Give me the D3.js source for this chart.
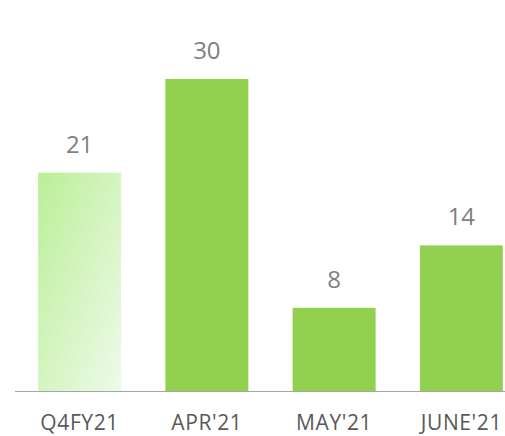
<!DOCTYPE html>
<html>
<head>
  <meta charset="utf-8">
  <style>
    body { margin: 0; background: #fff; }
    text { font-family: "Open Sans", sans-serif; }
  </style>
</head>
<body>
<div id="chart"></div>
<script src="https://d3js.org/d3.v7.min.js"></script>
<script>
	const categories = ["Q4FY21", "APR'21", "MAY'21", "JUNE'21"];
	const values = [21, 30, 8, 14];

	const width = 505;
	const height = 436;
	const baseY = 391;

	const svg = d3.select('#chart')
		.append('svg')
		.attr('width', width)
		.attr('height', height);

	const defs = svg.append('defs');
	const grad = defs.append('linearGradient')
		.attr('id', 'fade')
		.attr('x1', '0').attr('y1', '0')
		.attr('x2', '1').attr('y2', '1');
	grad.append('stop').attr('offset', '0%').attr('stop-color', '#bbef97');
	grad.append('stop').attr('offset', '100%').attr('stop-color', '#eefaea');

	const x = d3.scaleBand()
		.domain(categories)
		.range([16, 525])
		.paddingInner(0.348)
		.paddingOuter(0.174);

	const y = d3.scaleLinear()
		.domain([0, 30])
		.range([baseY, 79]);

	svg.append('g')
		.selectAll('rect')
		.data(values)
		.enter()
		.append('rect')
		.attr('x', (d, i) => x(categories[i]))
		.attr('y', d => y(d))
		.attr('width', x.bandwidth())
		.attr('height', d => baseY - y(d))
		.attr('fill', (d, i) => i === 0 ? 'url(#fade)' : '#92d050');

	svg.append('g')
		.selectAll('text')
		.data(values)
		.enter()
		.append('text')
		.attr('x', (d, i) => x(categories[i]) + x.bandwidth() / 2)
		.attr('y', d => y(d) - 20)
		.attr('text-anchor', 'middle')
		.attr('fill', '#7f7f7f')
		.style('font-size', '24px')
		.text(d => d);

	// x axis line + labels
	svg.append('line')
		.attr('x1', 15).attr('x2', width)
		.attr('y1', baseY + 0.5).attr('y2', baseY + 0.5)
		.attr('stroke', '#a6a6a6')
		.attr('stroke-width', 1);

	svg.append('g')
		.selectAll('text')
		.data(categories)
		.enter()
		.append('text')
		.attr('x', d => x(d) + x.bandwidth() / 2)
		.attr('y', 430)
		.attr('text-anchor', 'middle')
		.attr('fill', '#595959')
		.style('font-size', '21px')
		.style('letter-spacing', '0.6px')
		.text(d => d);
</script>
</body>
</html>
